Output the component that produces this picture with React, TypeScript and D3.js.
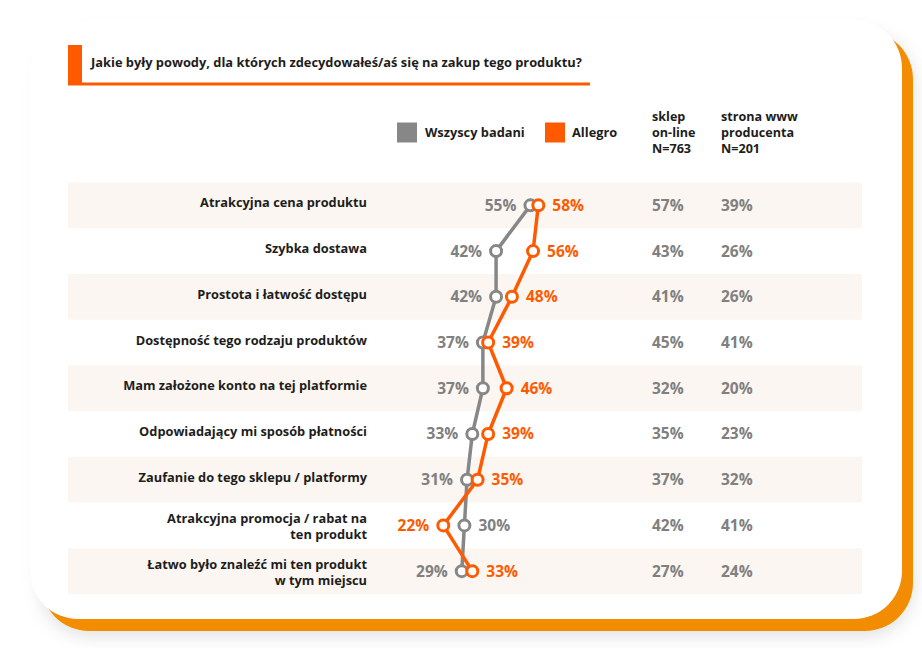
import React from "react";
import * as d3 from "d3";

const categories: string[][] = [
  ["Atrakcyjna cena produktu"],
  ["Szybka dostawa"],
  ["Prostota i łatwość dostępu"],
  ["Dostępność tego rodzaju produktów"],
  ["Mam założone konto na tej platformie"],
  ["Odpowiadający mi sposób płatności"],
  ["Zaufanie do tego sklepu / platformy"],
  ["Atrakcyjna promocja / rabat na", "ten produkt"],
  ["Łatwo było znaleźć mi ten produkt", "w tym miejscu"],
];
const allValues = [55, 42, 42, 37, 37, 33, 31, 30, 29];
const allegroValues = [58, 56, 48, 39, 46, 39, 35, 22, 33];
const sklepValues = [57, 43, 41, 45, 32, 35, 37, 42, 27];
const stronaValues = [39, 26, 26, 41, 20, 23, 32, 41, 24];
const sklepHeader = ["sklep", "on-line", "N=763"];
const stronaHeader = ["strona www", "producenta", "N=201"];
const legendLabels = ["Wszyscy badani", "Allegro"];
const title = "Jakie były powody, dla których zdecydowałeś/aś się na zakup tego produktu?";

const GRAY = "#878787";
const GRAY_TEXT = "#808080";
const ORANGE = "#ff5a00";
const AMBER = "#f28c00";
const DARK = "#1d1d1b";
const FONT = "'Open Sans', sans-serif";

export default function App() {
  const idx = categories.map((_, i) => i);
  const y = d3.scaleBand<number>().domain(idx).range([182.5, 594]).padding(0);
  const bw = y.bandwidth();
  const cy = (i: number) => (y(i) as number) + bw / 2;
  const x = d3.scaleLinear().domain([0, 100]).range([385.2, 649.2]);

  const line = d3
    .line<number>()
    .x((v) => x(v))
    .y((_, i) => cy(i));

  const labelOff = 14;

  return (
    <svg
      width={922}
      height={648}
      style={{ position: "absolute", left: 0, top: 0, background: "#fff" }}
      fontFamily={FONT}
    >
      <defs>
        <filter id="sh" x="-10%" y="-10%" width="120%" height="120%">
          <feDropShadow dx="0" dy="4" stdDeviation="9" floodColor="#000" floodOpacity="0.13" />
        </filter>
      </defs>
      {/* card */}
      <rect x={41} y={31} width={872} height={600} rx={48} fill={AMBER} filter="url(#sh)" />
      <rect x={30} y={20} width={872} height={599} rx={48} fill="#fff" />

      {/* title */}
      <rect x={68} y={45} width={14} height={40} fill={ORANGE} />
      <rect x={68} y={82.5} width={522} height={3} fill={ORANGE} />
      <text x={91} y={67} fontSize={12.85} fontWeight={700} fill={DARK}>
        {title}
      </text>

      {/* legend */}
      <rect x={397} y={122.5} width={20} height={20} fill={GRAY} />
      <text x={425} y={132.5} dy="0.35em" fontSize={12.8} fontWeight={700} fill={DARK}>
        {legendLabels[0]}
      </text>
      <rect x={545} y={122.5} width={20} height={20} fill={ORANGE} />
      <text x={572} y={132.5} dy="0.35em" fontSize={12.8} fontWeight={700} fill={DARK}>
        {legendLabels[1]}
      </text>

      {/* column headers */}
      {sklepHeader.map((t, i) => (
        <text key={"s" + i} x={652} y={117 + i * 15.8} dy="0.35em" fontSize={12.6} fontWeight={700} fill={DARK}>
          {t}
        </text>
      ))}
      {stronaHeader.map((t, i) => (
        <text key={"w" + i} x={721} y={117 + i * 15.8} dy="0.35em" fontSize={12.6} fontWeight={700} fill={DARK}>
          {t}
        </text>
      ))}

      {/* bands */}
      {idx.map((i) =>
        i % 2 === 0 ? (
          <rect key={"b" + i} x={68} y={y(i)} width={794} height={bw} fill="#fbf6f2" />
        ) : null
      )}

      {/* row labels */}
      {categories.map((lines, i) =>
        lines.map((t, j) => (
          <text
            key={"l" + i + "-" + j}
            x={367}
            y={cy(i) + (j - (lines.length - 1) / 2) * 16 + (lines.length > 1 ? 1 : -2.5)}
            dy="0.35em"
            textAnchor="end"
            fontSize={12.8}
            fontWeight={700}
            fill={DARK}
          >
            {t}
          </text>
        ))
      )}

      {/* lines */}
      <path d={line(allValues) || ""} fill="none" stroke={GRAY} strokeWidth={3.5} strokeLinejoin="round" />
      {allValues.map((v, i) => (
        <circle key={"gc" + i} cx={x(v)} cy={cy(i)} r={5.5} fill="#fff" stroke={GRAY} strokeWidth={3} />
      ))}
      <path d={line(allegroValues) || ""} fill="none" stroke={ORANGE} strokeWidth={3.5} strokeLinejoin="round" />
      {allegroValues.map((v, i) => (
        <circle key={"oc" + i} cx={x(v)} cy={cy(i)} r={5.5} fill="#fff" stroke={ORANGE} strokeWidth={3} />
      ))}

      {/* value labels */}
      {idx.map((i) => {
        const a = allValues[i];
        const o = allegroValues[i];
        const grayLeft = a <= o;
        return (
          <g key={"v" + i}>
            <text
              x={grayLeft ? x(a) - labelOff : x(a) + labelOff}
              y={cy(i)}
              dy="0.35em"
              textAnchor={grayLeft ? "end" : "start"}
              fontSize={15.5}
              fontWeight={700}
              fill={GRAY_TEXT}
            >
              {a}%
            </text>
            <text
              x={grayLeft ? x(o) + labelOff : x(o) - labelOff}
              y={cy(i)}
              dy="0.35em"
              textAnchor={grayLeft ? "start" : "end"}
              fontSize={15.5}
              fontWeight={700}
              fill={ORANGE}
            >
              {o}%
            </text>
          </g>
        );
      })}

      {/* right columns */}
      {sklepValues.map((v, i) => (
        <text key={"sv" + i} x={652} y={cy(i)} dy="0.35em" fontSize={15.5} fontWeight={700} fill={GRAY_TEXT}>
          {v}%
        </text>
      ))}
      {stronaValues.map((v, i) => (
        <text key={"wv" + i} x={721} y={cy(i)} dy="0.35em" fontSize={15.5} fontWeight={700} fill={GRAY_TEXT}>
          {v}%
        </text>
      ))}
    </svg>
  );
}
